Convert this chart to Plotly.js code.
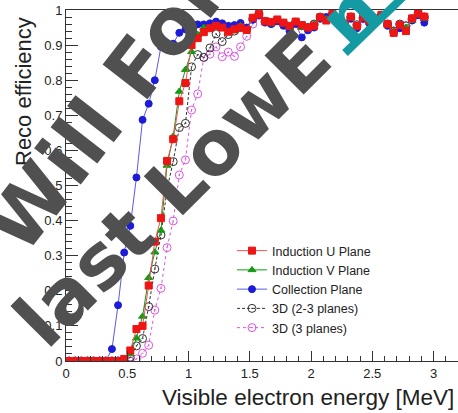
<!DOCTYPE html>
<html><head><meta charset="utf-8">
<script src="https://cdn.plot.ly/plotly-3.0.1.min.js"></script>
<style>html,body{margin:0;padding:0;background:#fff}#c{width:458px;height:413px}</style>
</head><body><div id="c"></div>
<script>
const energy = [0.025,0.075,0.125,0.175,0.225,0.275,0.325,0.375,0.425,0.475,0.525,0.575,0.625,0.675,0.725,0.775,0.825,0.875,0.925,0.975,1.025,1.075,1.125,1.175,1.225,1.275,1.325,1.375,1.425,1.475,1.525,1.575,1.625,1.675,1.725,1.775,1.825,1.875,1.925,1.975,2.025,2.075,2.125,2.175,2.225,2.275,2.325,2.375,2.425,2.475,2.525,2.575,2.625,2.675,2.725,2.775,2.825,2.875,2.925];
const inductionU = [0,0,0,0,0,0,0,0,0,0.006,0.03,0.091,0.10,0.215,0.34,0.407,0.57,0.632,0.74,0.792,0.90,0.92,0.937,0.948,0.955,0.95,0.938,0.945,0.95,0.943,0.978,0.988,0.968,0.966,0.973,0.964,0.955,0.967,0.957,0.95,0.955,0.979,0.97,0.989,0.97,0.96,0.981,0.954,0.979,0.97,0.975,0.986,0.96,0.935,0.957,0.94,0.976,0.99,0.981];
const inductionV = [0,0,0,0,0,0,0,0,0,0,0.02,0.065,0.127,0.237,0.31,0.372,0.557,0.64,0.768,0.83,0.881,0.93,0.95,0.945,0.955,0.95,0.935,0.94,0.955,0.945,0.975,0.985,0.97,0.96,0.97,0.96,0.95,0.965,0.95,0.948,0.96,0.975,0.975,0.985,0.965,0.958,0.978,0.955,0.975,0.965,0.972,0.983,0.958,0.94,0.955,0.95,0.97,0.985,0.975];
const collection = [0,0,0,0,0,0,0,0.034,0.159,0.309,0.385,0.523,0.687,0.733,0.80,0.895,0.897,0.904,0.935,0.945,0.959,0.959,0.959,0.962,0.967,0.962,0.955,0.957,0.963,0.950,0.972,0.985,0.965,0.960,0.968,0.955,0.940,0.960,0.922,0.942,0.950,0.975,0.980,0.985,0.962,0.952,0.975,0.948,0.975,0.962,0.970,0.980,0.955,0.935,0.948,0.945,0.970,0.985,0.964];
const reco3D23 = [0,0,0,0,0,0,0,0,0,0,0.01,0.043,0.064,0.155,0.262,0.359,0.49,0.568,0.665,0.677,0.838,0.873,0.865,0.892,0.932,0.91,0.93,0.94,0.95,0.945,0.975,0.99,0.968,0.962,0.97,0.962,0.95,0.965,0.955,0.95,0.96,0.98,0.975,0.988,0.968,0.96,0.98,0.958,0.978,0.968,0.975,0.985,0.96,0.94,0.96,0.955,0.975,0.99,0.98];
const reco3D3 = [0,0,0,0,0,0,0,0,0,0,0,0.006,0.022,0.045,0.145,0.207,0.323,0.399,0.53,0.573,0.715,0.761,0.865,0.874,0.895,0.867,0.88,0.868,0.895,0.925,0.96,0.985,0.965,0.962,0.97,0.96,0.952,0.965,0.955,0.95,0.958,0.978,0.975,0.985,0.968,0.96,0.978,0.955,0.975,0.968,0.972,0.985,0.96,0.94,0.958,0.955,0.972,0.992,0.98];
const seriesNames = ["Induction U Plane","Induction V Plane","Collection Plane","3D (2-3 planes)","3D (3 planes)"];
const xTicks = [0,0.5,1,1.5,2,2.5,3];
const xTickText = ["0","0.5","1","1.5","2","2.5","3"];
const yTicks = [0,0.1,0.2,0.3,0.4,0.5,0.6,0.7,0.8,0.9,1];
const yTickText = ["0","0.1","0.2","0.3","0.4","0.5","0.6","0.7","0.8","0.9","1"];

const W = 458, H = 413, L = 66, R = 0, T = 10, B = 52;
const pw = W - L - R, ph = H - T - B;
const px = x => (x - L) / pw, py = y => (T + ph - y) / ph;

const mk = (y, name, color, sym, size, dash, lcolor) => ({
  x: energy, y: y, name: name, type: 'scatter', mode: 'lines+markers',
  line: {color: lcolor || color, width: 1, dash: dash},
  marker: {color: color, symbol: sym, size: size, line: {color: color, width: 1}}
});
const traces = [
  mk(reco3D3, seriesNames[4], '#dd55dd', 'circle-open-dot', 8, 'dot'),
  mk(reco3D23, seriesNames[3], '#333333', 'circle-open-dot', 8, '3px,2px'),
  mk(collection, seriesNames[2], '#1c1cd8', 'circle', 7, 'solid', '#5a5ae6'),
  mk(inductionV, seriesNames[1], '#139a13', 'triangle-up', 7, 'solid'),
  mk(inductionU, seriesNames[0], '#ee1515', 'square', 7, 'solid', '#ee5555')
];

const font = {family: 'Liberation Sans, Arial, sans-serif', color: '#222'};
const wm = {family: 'DejaVu Sans, sans-serif', color: '#505050', size: 78, weight: 'bold'};
const layout = {
  width: W, height: H, margin: {l: L, r: R, t: T, b: B}, paper_bgcolor: '#fff', plot_bgcolor: '#fff',
  showlegend: true,
  legend: {traceorder: 'reversed', x: px(232), y: py(236), xanchor: 'left', yanchor: 'top',
    bgcolor: 'rgba(0,0,0,0)', font: Object.assign({}, font, {size: 12.5}), itemwidth: 30},
  xaxis: {range: [0, 3.2], tickvals: xTicks, ticktext: xTickText, ticks: 'inside', ticklen: 10,
    tickcolor: '#333', showline: true, linecolor: '#333', mirror: true, showgrid: false, zeroline: false,
    tickfont: Object.assign({}, font, {size: 13}),
    minor: {dtick: 0.1, ticks: 'inside', ticklen: 5, tickcolor: '#333', showgrid: false}},
  yaxis: {range: [0, 1], tickvals: yTicks, ticktext: yTickText, ticks: 'inside', ticklen: 12,
    tickcolor: '#333', showline: true, linecolor: '#333', mirror: true, showgrid: false, zeroline: false,
    tickfont: Object.assign({}, font, {size: 13}),
    minor: {dtick: 0.02, ticks: 'inside', ticklen: 6, tickcolor: '#333', showgrid: false}},
  annotations: [
    {text: 'Visible electron energy [MeV]', xref: 'paper', yref: 'paper', x: px(456), y: py(397),
     xanchor: 'right', yanchor: 'middle', showarrow: false, font: Object.assign({}, font, {size: 22.5})},
    {text: 'Reco efficiency', xref: 'paper', yref: 'paper', x: px(23), y: py(92), textangle: -90,
     xanchor: 'center', yanchor: 'middle', showarrow: false, font: Object.assign({}, font, {size: 22})},
    {text: 'Will Fore', xref: 'paper', yref: 'paper', x: px(122), y: py(88), textangle: -52,
     xanchor: 'center', yanchor: 'middle', showarrow: false, font: wm},
    {text: 'last LowE', xref: 'paper', yref: 'paper', x: px(172), y: py(188), textangle: -45,
     xanchor: 'center', yanchor: 'middle', showarrow: false, font: Object.assign({}, wm, {size: 76})},
    {text: 'n', xref: 'paper', yref: 'paper', x: px(350), y: py(15), textangle: -45,
     xanchor: 'center', yanchor: 'middle', showarrow: false, font: Object.assign({}, wm, {size: 70, color: '#139aa2'})}
  ],
  shapes: [
    {type: 'line', xref: 'paper', yref: 'paper', x0: px(345), y0: py(53), x1: px(405), y1: py(-5),
     line: {color: '#139aa2', width: 8}}
  ]
};
Plotly.newPlot('c', traces, layout, {displayModeBar: false, staticPlot: true});
</script></body></html>
